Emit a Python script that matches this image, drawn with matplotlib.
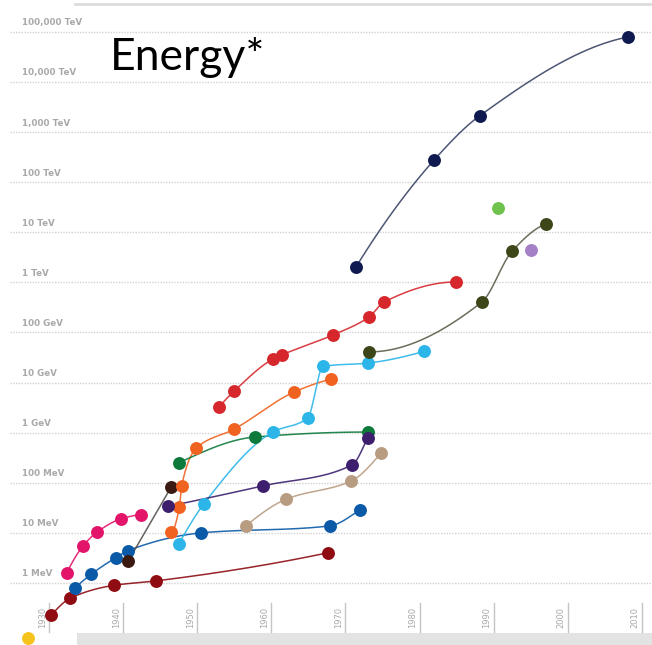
import numpy as np
import matplotlib
matplotlib.use("Agg")
import matplotlib.pyplot as plt
from matplotlib.patches import Rectangle
from matplotlib.transforms import blended_transform_factory

# ---- data: (year, beam energy in MeV) for each accelerator family ----
maroon_years = [1930.3, 1932.9, 1938.8, 1944.4, 1967.6]
maroon_mev = [0.23, 0.5, 0.9, 1.1, 4.0]

pink_years = [1932.4, 1934.6, 1936.5, 1939.7, 1942.4]
pink_mev = [1.6, 5.5, 10.4, 19, 23]

blue_years = [1933.5, 1935.7, 1939.0, 1940.6, 1950.5, 1967.9, 1972.0]
blue_mev = [0.8, 1.5, 3.2, 4.4, 10, 13.8, 29]

brown_years = [1940.7, 1946.5]
brown_mev = [2.75, 83]

orange_years = [1946.5, 1947.6, 1947.9, 1949.9, 1955.0, 1963.1, 1968.1]
orange_mev = [10.4, 33, 87, 494, 1180, 6500, 11800]

green_years = [1947.5, 1957.8, 1973.0]
green_mev = [250, 820, 1030]

cyan_years = [1947.5, 1950.9, 1960.2, 1964.9, 1967.0, 1973.0, 1980.6]
cyan_mev = [6, 38, 1030, 1960, 21000, 24500, 42000]

indigo_years = [1946.1, 1958.9, 1970.9, 1973.0]
indigo_mev = [34, 87, 228, 780]

tan_years = [1956.6, 1962.0, 1970.8, 1974.8]
tan_mev = [14, 47, 109, 390]

red_years = [1952.9, 1955.0, 1960.2, 1961.4, 1968.3, 1973.2, 1975.2, 1984.9]
red_mev = [3240, 6800, 29500, 35600, 89000, 204000, 405000, 1.02e6]

olive_years = [1973.2, 1988.4, 1992.5, 1997.1]
olive_mev = [41000, 405000, 4.2e6, 1.47e7]

navy_years = [1971.4, 1982.0, 1988.1, 2008.1]
navy_mev = [2.0e6, 2.8e8, 2.1e9, 7.9e10]

# single machines
lime_years = [1990.6]
lime_mev = [3.1e7]
lavender_years = [1995.0]
lavender_mev = [4.4e6]
yellow_years = [1927.2]
yellow_mev = [0.08]

grid_labels = ["1 MeV", "10 MeV", "100 MeV", "1 GeV", "10 GeV", "100 GeV",
               "1 TeV", "10 TeV", "100 TeV", "1,000 TeV", "10,000 TeV",
               "100,000 TeV"]
decades = [1930, 1940, 1950, 1960, 1970, 1980, 1990, 2000, 2010]

series = [
    (maroon_years, maroon_mev, "#8e0c12"),
    (pink_years, pink_mev, "#e3156b"),
    (blue_years, blue_mev, "#0b5aa8"),
    (brown_years, brown_mev, "#3b1a12"),
    (orange_years, orange_mev, "#f0621f"),
    (green_years, green_mev, "#0d7a3c"),
    (cyan_years, cyan_mev, "#2bb5e8"),
    (indigo_years, indigo_mev, "#3d1f6e"),
    (tan_years, tan_mev, "#b89c82"),
    (red_years, red_mev, "#d6272c"),
    (olive_years, olive_mev, "#3c4619"),
    (navy_years, navy_mev, "#0e1a50"),
]
singles = [
    (lime_years, lime_mev, "#6fc34d"),
    (lavender_years, lavender_mev, "#a680c6"),
    (yellow_years, yellow_mev, "#f6c31c"),
]
line_colors = {"#3b1a12": "#55504c", "#0e1a50": "#3a4466", "#3c4619": "#5a5e48"}


def _edge_slope(h0, h1, d0, d1):
    m = ((2 * h0 + h1) * d0 - h0 * d1) / (h0 + h1)
    if np.sign(m) != np.sign(d0):
        return 0.0
    if np.sign(d0) != np.sign(d1) and abs(m) > abs(3 * d0):
        return 3 * d0
    return m


def smooth_path(x, y, n=40):
    """Monotone cubic (PCHIP) path through the points."""
    x = np.asarray(x, float)
    y = np.asarray(y, float)
    if len(x) == 2:
        return x, y
    h = np.diff(x)
    d = np.diff(y) / h
    m = np.zeros_like(y)
    for k in range(1, len(x) - 1):
        if d[k - 1] * d[k] <= 0:
            m[k] = 0.0
        else:
            w1 = 2 * h[k] + h[k - 1]
            w2 = h[k] + 2 * h[k - 1]
            m[k] = (w1 + w2) / (w1 / d[k - 1] + w2 / d[k])
    m[0] = _edge_slope(h[0], h[1], d[0], d[1])
    m[-1] = _edge_slope(h[-1], h[-2], d[-1], d[-2])
    xs, ys = [], []
    for k in range(len(x) - 1):
        t = np.linspace(0, 1, n)
        h00 = 2 * t**3 - 3 * t**2 + 1
        h10 = t**3 - 2 * t**2 + t
        h01 = -2 * t**3 + 3 * t**2
        h11 = t**3 - t**2
        xs.append(x[k] + t * h[k])
        ys.append(h00 * y[k] + h10 * h[k] * m[k] + h01 * y[k + 1] + h11 * h[k] * m[k + 1])
    return np.concatenate(xs), np.concatenate(ys)


W, H = 652, 645
fig = plt.figure(figsize=(W / 100, H / 100), dpi=100)
ax = fig.add_axes([0, 0, 1, 1])
ax.set_yscale("log")
x0_px, px_per_year = 49.0, 7.41
y0_px, px_per_decade = 583.0, 50.1
ax.set_xlim(1930 - x0_px / px_per_year, 1930 + (W - x0_px) / px_per_year)
ax.set_ylim(10 ** ((y0_px - H) / px_per_decade), 10 ** (y0_px / px_per_decade))
ax.axis("off")

gray_txt = "#a9a9a9"
tx_y = blended_transform_factory(ax.transAxes, ax.transData)
tx_x = blended_transform_factory(ax.transData, ax.transAxes)

# dotted energy gridlines with labels
for k, lab in enumerate(grid_labels):
    ax.axhline(10.0 ** k, xmin=10 / W, xmax=1, color="#d2d2d2", lw=1.0,
               ls=(0, (1, 1)), zorder=1)
    ax.annotate(lab, xy=(22 / W, 10.0 ** k), xycoords=tx_y,
                xytext=(0, 6.5), textcoords="offset points",
                ha="left", va="center", fontsize=6.3, color=gray_txt,
                fontweight="bold", family="DejaVu Sans")

# decade ticks along the bottom
for yr in decades:
    ax.plot([yr, yr], [1 - 632 / H, 1 - 603 / H], transform=tx_x,
            color="#c4c4c4", lw=1.0, zorder=1)
    ax.annotate(str(yr), xy=(yr, 1 - 617 / H), xycoords=tx_x,
                xytext=(-1.5, 0), textcoords="offset points",
                ha="right", va="center", rotation=90, fontsize=6.0,
                color=gray_txt, family="DejaVu Sans")

# frame decorations
ax.add_patch(Rectangle((77 / W, 0), 1 - 77 / W, 12 / H, transform=ax.transAxes,
                       facecolor="#e3e3e3", edgecolor="none", zorder=0))
ax.plot([75 / W, 1], [1 - 4 / H, 1 - 4 / H], transform=ax.transAxes,
        color="#dcdcdc", lw=2.0, zorder=0)

# curves
for yrs, vals, col in series:
    sx, sy = smooth_path(yrs, np.log10(vals))
    ax.plot(sx, 10 ** sy, color=line_colors.get(col, col), lw=1.1, zorder=2,
            alpha=0.9, solid_capstyle="round")

# machines
for yrs, vals, col in series + singles:
    ax.plot(yrs, vals, ls="none", marker="o", ms=9.3, mfc=col, mec=col,
            mew=0, zorder=3)

ax.text(110 / W, 1 - 58 / H, "Energy*", transform=ax.transAxes,
        fontsize=32, color="black", ha="left", va="center", family="Lato")

fig.savefig("out.png", dpi=100)
